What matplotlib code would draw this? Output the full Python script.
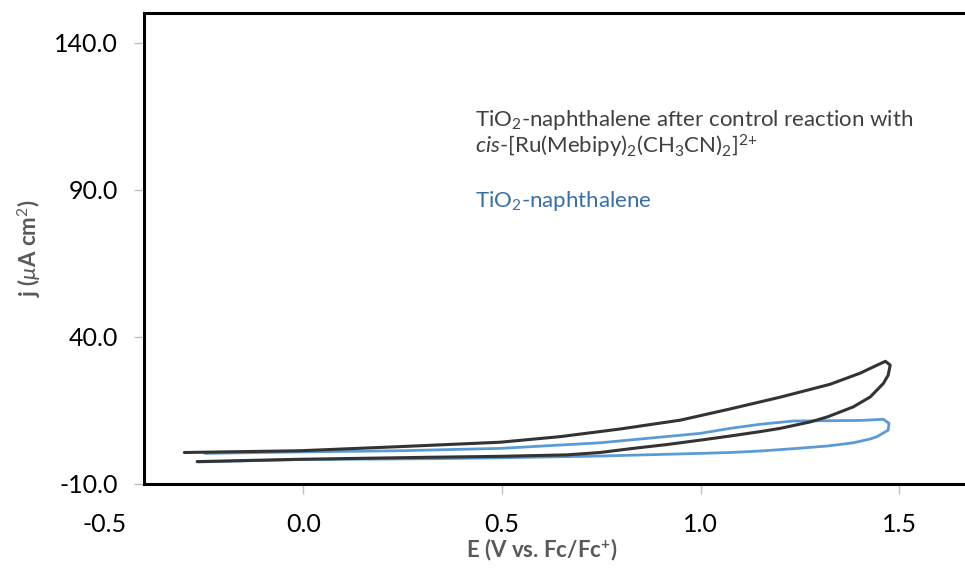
import matplotlib
matplotlib.use("Agg")
import matplotlib.pyplot as plt

# cyclic voltammograms (E in V vs Fc/Fc+, j in uA cm^-2)
control_E = [-0.299, -0.008, 0.244, 0.496, 0.647, 0.798, 0.949, 1.074, 1.200, 1.326,
             1.402, 1.444, 1.465, 1.477, 1.472, 1.460, 1.427, 1.384, 1.319, 1.276,
             1.200, 1.150, 1.074, 0.999, 0.915, 0.830, 0.747, 0.664, 0.496, 0.327,
             -0.008, -0.267]
control_j = [0.7, 1.3, 2.7, 4.2, 6.1, 8.7, 11.7, 15.5, 19.5, 23.9,
             27.7, 30.4, 31.7, 30.4, 27.0, 24.2, 19.6, 16.2, 12.8, 11.1,
             8.9, 7.8, 6.3, 4.9, 3.4, 2.1, 0.7, -0.1, -0.6, -0.9,
             -1.6, -2.4]

plain_E = [-0.264, -0.008, 0.327, 0.496, 0.747, 0.999, 1.074, 1.150, 1.233, 1.319,
           1.384, 1.427, 1.444, 1.472, 1.474, 1.460, 1.402, 1.319, 1.233, 1.150,
           1.074, 0.999, 0.747, 0.496, 0.244, -0.008, -0.247]
plain_j = [-2.5, -1.7, -1.4, -1.1, -0.5, 0.4, 0.7, 1.2, 2.0, 2.9,
           4.0, 5.3, 6.1, 8.3, 10.6, 12.0, 11.6, 11.5, 11.4, 10.3,
           8.9, 7.2, 4.0, 2.1, 1.3, 0.9, 0.4]

x_ticks = [-0.5, 0.0, 0.5, 1.0, 1.5]
y_ticks = [-10, 40, 90, 140]

plt.rcParams["font.family"] = ["Lato", "DejaVu Sans"]
plt.rcParams["mathtext.fontset"] = "custom"
plt.rcParams["mathtext.rm"] = "Lato"
plt.rcParams["mathtext.it"] = "Lato:italic"
plt.rcParams["mathtext.bf"] = "Lato:bold"
plt.rcParams["mathtext.fallback"] = "stixsans"

fig = plt.figure(figsize=(9.65, 5.71), dpi=100)
ax = fig.add_axes([0.1083, 0.1524, 0.906, 0.8243])

ax.plot(plain_E, plain_j, color="#5B9BD5", linewidth=2.0,
        solid_capstyle="round", solid_joinstyle="round")
ax.plot(control_E, control_j, color="#333333", linewidth=2.2,
        solid_capstyle="round", solid_joinstyle="round")

ax.set_xlim(-0.5, 1.7)
ax.set_ylim(-10, 150)
ax.set_xticks(x_ticks)
ax.set_xticklabels([f"{v:.1f}" for v in x_ticks])
ax.set_yticks(y_ticks)
ax.set_yticklabels([f"{v:.1f}" for v in y_ticks])

# vertical axis crosses at E = -0.4, like the original spreadsheet chart
ax.spines["left"].set_position(("data", -0.4))
ax.spines["top"].set_bounds(-0.4, 1.7)
ax.spines["bottom"].set_bounds(-0.4, 1.7)
ax.spines["right"].set_visible(False)
for side in ("left", "top", "bottom"):
    ax.spines[side].set_linewidth(2.2)
    ax.spines[side].set_color("black")

ax.tick_params(axis="both", colors="#BFBFBF", labelcolor="black", labelsize=18,
               length=7, width=1)
ax.tick_params(axis="x", pad=14)
ax.tick_params(axis="y", pad=12)
ax.xaxis.get_major_ticks()[0].tick1line.set_visible(False)

ax.set_xlabel(r"E (V vs. Fc/Fc$^{\mathbf{+}}$)", fontsize=16, fontweight="bold", color="#595959")
ax.set_ylabel(r"j ($\mu$A cm$^{2}$)", fontsize=16, fontweight="bold", color="#595959")
ax.xaxis.set_label_coords(0.5, -0.112)
ax.yaxis.set_label_coords(-0.0715, 0.5)

ax.text(0.4238, 0.7614, r"TiO$_2$-naphthalene after control reaction with",
        transform=ax.transAxes, fontsize=16, color="#404040", va="baseline")
ax.text(0.4238, 0.702, r"$\mathit{cis}$-[Ru(Mebipy)$_2$(CH$_3$CN)$_2$]$^{2{+}}$",
        transform=ax.transAxes, fontsize=16, color="#404040", va="baseline")
ax.text(0.4238, 0.5875, r"TiO$_2$-naphthalene",
        transform=ax.transAxes, fontsize=16, color="#3B6EA5", va="baseline")

fig.savefig("out.png", dpi=100)
